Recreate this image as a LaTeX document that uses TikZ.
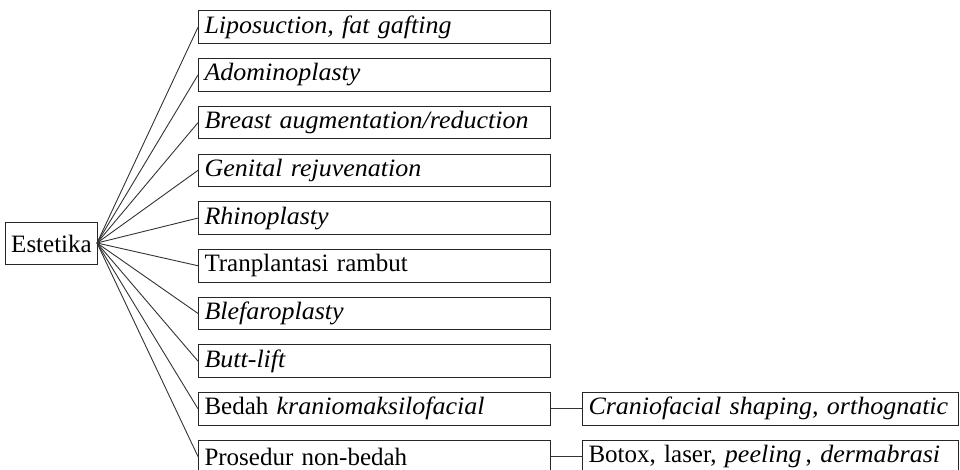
\documentclass[tikz,border=0pt]{standalone}
\usepackage{fontspec}
\setmainfont{Liberation Serif}[ItalicFeatures={FakeStretch=1.04}]
\begin{document}
\begin{tikzpicture}[x=1pt,y=-1pt,
  box/.style={draw=black!85, line width=1pt, rectangle, anchor=north west, inner xsep=6pt, inner ysep=0pt, minimum height=32.5pt, align=left, font=\fontsize{25}{27}\selectfont},
  lbox/.style={box, text width=340pt},
  rbox/.style={box, text width=364pt},
  conn/.style={draw=black!80, line width=0.9pt}]
\path[use as bounding box] (0,0) rectangle (960,470);
\node[draw=black!85, line width=1pt, rectangle, anchor=north west, inner sep=0pt, minimum width=92pt, minimum height=42pt, font=\fontsize{25}{27}\selectfont] (est) at (5,222) {Estetika\hspace{3pt}};
\coordinate (hub) at (97,243);
\node[lbox] (b1) at (198,10.5) {\itshape Liposuction, fat gafting};
\node[lbox] (b2) at (198,58.2) {\itshape Adominoplasty};
\node[lbox] (b3) at (198,105.9) {\itshape Breast augmentation/reduction};
\node[lbox] (b4) at (198,153.6) {\itshape Genital rejuvenation};
\node[lbox] (b5) at (198,201.3) {\itshape Rhinoplasty};
\node[lbox] (b6) at (198,249) {Tranplantasi rambut};
\node[lbox] (b7) at (198,296.7) {\itshape Blefaroplasty};
\node[lbox] (b8) at (198,344.4) {\itshape Butt-lift};
\node[lbox] (b9) at (198,392.1) {Bedah \textit{kraniomaksilofacial}};
\node[lbox] (b10) at (198,439.8) {Prosedur non-bedah};
\node[rbox] (r1) at (582,392.1) {\itshape Craniofacial shaping, orthognatic};
\node[rbox] (r2) at (582,439.8) {Botox, laser, \textit{peeling}\,, \textit{dermabrasi}};
\foreach \n in {b1,b2,b3,b4,b5,b6,b7,b8,b9,b10}
  \draw[conn] (hub) -- (\n.west);
\draw[conn] (b9.east) -- (r1.west);
\draw[conn] (b10.east) -- (r2.west);
\end{tikzpicture}
\end{document}
